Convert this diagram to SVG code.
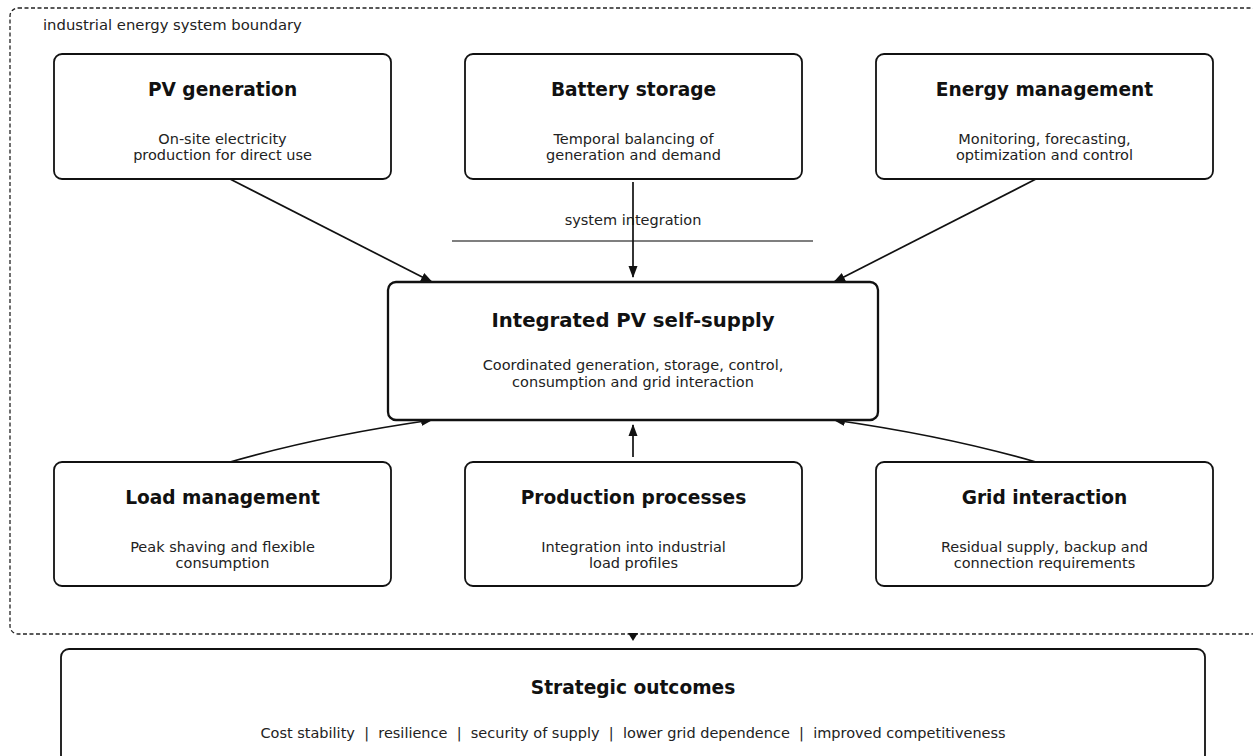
<svg xmlns="http://www.w3.org/2000/svg" width="1253" height="756" viewBox="0 0 1253 756">
<style>
.box{fill:#fff;stroke:#111;stroke-width:1.8}
.big{fill:#fff;stroke:#111;stroke-width:2.3}
.t{font-family:"DejaVu Sans",sans-serif;font-weight:bold;font-size:18.6px;fill:#111;text-anchor:middle}
.tc{font-family:"DejaVu Sans",sans-serif;font-weight:bold;font-size:19.7px;fill:#111;text-anchor:middle}
.s{font-family:"DejaVu Sans",sans-serif;font-size:14.5px;fill:#222;text-anchor:middle}
.c{fill:none;stroke:#111;stroke-width:1.7}
</style>
<defs>
<marker id="ah" markerWidth="12" markerHeight="12" refX="11" refY="6" orient="auto" markerUnits="userSpaceOnUse"><path d="M0,1.5 L12,6 L0,10.5 Z" fill="#111"/></marker>
</defs>
<rect width="1253" height="756" fill="#fff"/>
<g id="boundary">
<rect x="10" y="8" width="1250" height="626" rx="8" fill="none" stroke="#222" stroke-width="1.3" stroke-dasharray="4,2.5"/>
<text x="43" y="30" font-family="DejaVu Sans,sans-serif" font-size="14.8" fill="#222">industrial energy system boundary</text>
</g>
<g id="connectors">
<line x1="452" y1="241" x2="813" y2="241" stroke="#555" stroke-width="1.4"/>
<text x="633" y="225" class="s">system integration</text>
<line class="c" x1="230" y1="179" x2="432" y2="282" marker-end="url(#ah)"/>
<line class="c" x1="633" y1="182" x2="633" y2="277" marker-end="url(#ah)"/>
<line class="c" x1="1036" y1="179" x2="834" y2="282" marker-end="url(#ah)"/>
<path class="c" d="M230,462 Q320,436 432,420" marker-end="url(#ah)"/>
<line class="c" x1="633" y1="457" x2="633" y2="425" marker-end="url(#ah)"/>
<path class="c" d="M1036,462 Q946,436 834,420" marker-end="url(#ah)"/>
<path d="M628,633 L638,633 L633,641 Z" fill="#111"/>
</g>
<g id="pv">
<rect class="box" x="54" y="54" width="337" height="125" rx="8"/>
<text class="t" x="222.5" y="96">PV generation</text>
<text class="s" x="222.5" y="144">On-site electricity</text>
<text class="s" x="222.5" y="160">production for direct use</text>
</g>
<g id="battery">
<rect class="box" x="465" y="54" width="337" height="125" rx="8"/>
<text class="t" x="633.5" y="96">Battery storage</text>
<text class="s" x="633.5" y="144">Temporal balancing of</text>
<text class="s" x="633.5" y="160">generation and demand</text>
</g>
<g id="ems">
<rect class="box" x="876" y="54" width="337" height="125" rx="8"/>
<text class="t" x="1044.5" y="96">Energy management</text>
<text class="s" x="1044.5" y="144">Monitoring, forecasting,</text>
<text class="s" x="1044.5" y="160">optimization and control</text>
</g>
<g id="center">
<rect class="big" x="388" y="282" width="490" height="138" rx="8"/>
<text class="tc" x="633" y="327">Integrated PV self-supply</text>
<text class="s" x="633" y="370">Coordinated generation, storage, control,</text>
<text class="s" x="633" y="387">consumption and grid interaction</text>
</g>
<g id="load">
<rect class="box" x="54" y="462" width="337" height="124" rx="8"/>
<text class="t" x="222.5" y="504">Load management</text>
<text class="s" x="222.5" y="552">Peak shaving and flexible</text>
<text class="s" x="222.5" y="568">consumption</text>
</g>
<g id="production">
<rect class="box" x="465" y="462" width="337" height="124" rx="8"/>
<text class="t" x="633.5" y="504">Production processes</text>
<text class="s" x="633.5" y="552">Integration into industrial</text>
<text class="s" x="633.5" y="568">load profiles</text>
</g>
<g id="grid">
<rect class="box" x="876" y="462" width="337" height="124" rx="8"/>
<text class="t" x="1044.5" y="504">Grid interaction</text>
<text class="s" x="1044.5" y="552">Residual supply, backup and</text>
<text class="s" x="1044.5" y="568">connection requirements</text>
</g>
<g id="outcomes">
<rect class="box" x="61" y="649" width="1144" height="115" rx="8"/>
<text class="t" x="633" y="694">Strategic outcomes</text>
<text class="s" x="633" y="738" xml:space="preserve" style="white-space:pre">Cost stability  |  resilience  |  security of supply  |  lower grid dependence  |  improved competitiveness</text>
</g>
</svg>
